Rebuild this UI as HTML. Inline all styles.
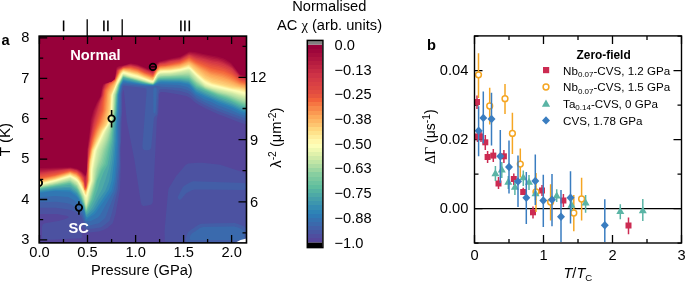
<!DOCTYPE html><html><head><meta charset="utf-8"><style>html,body{margin:0;padding:0;background:#fff;overflow:hidden}svg{display:block;will-change:transform;filter:blur(0.35px)}text{font-family:"Liberation Sans",sans-serif;fill:#000}</style></head><body><svg width="685" height="282" viewBox="0 0 685 282"><defs><clipPath id="ca"><rect x="39.2" y="36.1" width="207.3" height="206.8"/></clipPath><clipPath id="cb"><rect x="474.5" y="35.9" width="207" height="207.1"/></clipPath></defs><g clip-path="url(#ca)"><rect x="30" y="30" width="226" height="220" fill="#97013a"/>
<path fill-rule="evenodd" fill="#a20a3c" d="M189.2,51.5 195.2,52.1 204.8,54.3 217.2,56.4 223.2,58.3 225.8,59.4 231.2,62.9 239.8,74.3 241.2,75.0 250.2,76.8 255.8,76.8 255.8,249.8 30.2,249.8 30.2,168.3 70.8,167.2 76.8,168.5 78.8,169.5 81.8,171.4 85.8,175.3 86.3,174.2 86.8,169.2 87.3,149.2 89.7,131.2 90.6,120.2 93.0,111.2 96.7,102.8 100.5,96.2 101.9,87.8 103.1,84.2 105.8,83.1 111.2,81.9 114.8,79.2 116.3,67.8 118.8,66.1 123.2,65.4 130.8,63.2 137.8,64.6 150.8,70.0 153.2,70.4 156.7,63.2 159.2,61.6 170.8,58.6 180.2,56.8Z"/>
<path fill-rule="evenodd" fill="#af153f" d="M188.8,52.7 190.2,52.4 194.8,53.2 217.2,57.9 222.8,59.6 225.2,60.7 230.8,64.1 233.4,66.8 239.8,75.0 241.2,75.6 249.8,77.3 255.8,77.5 255.8,249.8 30.2,249.8 30.2,169.5 39.2,169.5 70.8,167.7 77.8,169.5 81.8,172.2 84.8,175.8 85.8,175.7 86.4,174.2 86.8,171.2 87.6,149.8 91.6,120.2 94.2,110.8 97.3,103.2 100.9,96.2 102.5,87.8 103.6,84.8 105.8,83.4 111.2,82.0 114.9,79.2 115.8,75.2 116.1,70.8 117.2,67.8 119.2,66.8 130.8,63.8 137.2,65.1 149.8,70.3 152.8,71.0 153.7,70.2 157.1,63.8 159.2,62.1 170.2,59.4 180.2,57.5Z"/>
<path fill-rule="evenodd" fill="#bc2142" d="M188.2,53.7 190.8,53.5 212.8,58.7 218.2,59.6 222.2,60.9 229.2,64.4 232.2,66.7 240.2,76.0 250.8,78.2 255.8,78.2 255.8,249.8 30.2,249.8 30.2,170.7 39.2,170.7 70.7,168.2 76.2,169.5 78.2,170.4 81.5,172.8 85.3,177.2 86.2,175.6 86.9,171.2 88.0,149.8 92.5,121.2 95.3,110.8 98.0,103.8 101.4,96.2 102.5,89.8 104.1,85.2 105.8,83.7 111.2,82.1 115.0,79.2 116.5,70.8 117.8,68.4 122.7,66.2 129.2,64.5 130.8,64.4 138.2,66.1 149.2,70.7 152.8,71.8 153.8,70.9 156.9,64.8 159.8,62.5 164.8,61.6 170.2,60.0 179.8,58.4Z"/>
<path fill-rule="evenodd" fill="#c82d44" d="M189.2,54.2 212.8,60.2 218.2,61.1 222.8,62.6 228.2,65.3 232.2,67.7 240.2,76.8 250.8,78.8 255.8,78.8 255.8,249.8 30.2,249.8 30.2,171.9 39.8,171.9 66.8,168.9 70.8,168.7 76.8,170.2 80.8,172.9 84.2,177.2 85.2,180.4 86.2,177.0 87.0,171.8 88.5,148.2 92.8,124.5 94.1,118.8 98.8,103.8 102.2,95.2 103.0,89.8 104.4,86.2 105.8,84.1 108.8,82.8 111.2,82.2 115.1,79.2 117.2,69.8 119.5,68.2 123.2,66.4 129.2,64.9 130.8,64.9 138.2,66.8 152.8,72.6 153.8,71.5 156.0,66.8 157.2,65.0 159.8,63.0 164.8,62.3 170.2,60.7 179.8,59.2Z"/>
<path fill-rule="evenodd" fill="#d33846" d="M188.2,55.2 189.2,54.9 190.2,55.1 196.2,57.4 204.8,59.2 212.2,61.5 217.8,62.2 223.8,64.2 231.8,68.2 240.2,77.4 250.2,79.4 255.8,79.4 255.8,249.8 30.2,249.8 30.2,172.9 39.8,172.9 68.8,169.1 70.8,169.1 76.8,170.6 81.0,173.8 83.8,177.8 84.7,183.8 84.8,188.8 85.9,183.2 86.9,174.8 88.6,149.8 90.3,139.8 94.1,121.8 100.4,100.8 102.6,95.2 103.5,89.8 105.8,84.5 109.0,82.8 111.2,82.3 114.3,80.2 115.4,78.8 117.4,70.2 123.2,66.7 130.8,65.4 137.8,67.1 150.2,72.3 153.2,73.0 156.7,66.2 158.2,64.5 160.2,63.2 164.8,62.9 170.8,61.1 180.1,59.8Z"/>
<path fill-rule="evenodd" fill="#da4243" d="M189.2,55.6 195.8,58.2 211.8,62.9 217.2,63.9 225.2,66.6 231.2,69.6 239.8,77.9 250.2,80.3 255.8,80.3 255.8,249.8 30.2,249.8 30.2,174.1 40.2,174.0 69.2,169.5 76.8,171.1 80.7,174.2 83.3,177.8 84.5,183.8 84.8,188.9 84.9,187.8 85.8,186.2 86.3,183.2 88.6,152.2 90.9,138.8 94.1,125.2 103.0,95.2 103.8,90.1 106.2,84.8 109.2,82.8 111.2,82.4 114.4,80.2 115.3,79.2 117.8,70.2 123.2,67.0 130.8,65.9 137.8,67.6 146.2,71.3 152.2,73.5 153.2,73.5 156.8,66.7 158.2,65.1 160.2,63.9 165.2,63.4 170.8,61.8 180.2,60.3Z"/>
<path fill-rule="evenodd" fill="#e24c41" d="M188.8,56.6 189.8,56.5 195.8,59.2 211.8,64.6 218.7,66.0 225.2,68.2 230.2,70.6 232.8,72.4 239.2,78.4 240.8,79.1 249.7,81.1 255.8,81.3 255.8,249.8 30.2,249.8 30.2,175.3 40.2,175.1 55.2,172.8 69.2,170.0 71.2,170.2 77.2,172.0 80.0,174.2 82.1,176.8 83.0,178.2 84.3,183.8 84.8,189.1 85.0,187.8 86.1,186.3 86.7,182.8 88.2,159.2 89.0,152.2 90.8,141.8 94.2,127.7 99.9,110.2 101.7,101.2 103.5,95.2 104.2,90.2 107.1,84.8 109.2,83.2 111.2,82.5 115.2,79.5 118.3,70.2 123.2,67.3 130.2,66.4 138.2,68.4 145.8,71.8 152.8,74.2 153.8,73.3 157.3,66.8 159.8,64.8 180.2,60.9Z"/>
<path fill-rule="evenodd" fill="#e9563e" d="M189.2,57.2 196.8,60.7 211.8,66.3 218.2,67.6 224.8,69.5 232.2,73.4 238.8,78.9 240.8,80.0 250.8,82.3 255.8,82.3 255.8,249.8 30.2,249.8 30.2,176.5 39.2,176.5 55.8,173.6 69.2,170.6 71.2,170.7 77.2,172.5 81.5,176.8 82.4,178.2 84.0,182.8 84.8,189.3 85.2,187.6 85.8,187.9 86.2,187.4 87.0,183.2 88.4,159.8 89.8,149.8 91.5,140.8 94.2,130.2 101.1,109.7 102.5,101.2 104.0,95.2 104.7,90.2 106.8,86.2 108.5,84.2 115.2,79.7 118.8,70.2 123.2,67.7 130.8,67.0 138.2,68.9 145.3,72.2 152.8,74.9 153.8,74.0 157.8,66.9 160.2,65.2 165.8,64.6 179.8,61.8Z"/>
<path fill-rule="evenodd" fill="#f0603c" d="M188.8,58.0 189.8,58.1 196.8,61.9 211.2,67.9 224.2,70.9 232.2,74.7 240.2,80.8 250.6,83.2 255.8,83.3 255.8,249.8 30.2,249.8 30.2,177.7 39.8,177.6 55.8,174.6 69.2,171.1 70.8,171.0 77.2,173.1 81.2,177.1 83.9,182.8 84.8,189.5 85.2,187.7 86.2,188.9 87.3,183.2 88.6,159.8 90.0,149.8 91.9,140.8 94.5,131.2 102.1,110.2 105.1,90.2 108.9,84.2 115.2,79.9 119.1,70.2 123.2,68.0 130.8,67.5 138.2,69.5 144.8,72.8 150.2,74.4 152.8,75.7 153.8,74.6 157.9,67.2 159.8,66.1 166.2,65.2 180.2,62.3Z"/>
<path fill-rule="evenodd" fill="#f46c3e" d="M188.8,58.6 189.8,58.7 196.2,62.5 210.8,69.1 223.8,72.0 231.3,75.2 240.2,81.5 250.2,84.0 255.8,84.0 255.8,249.8 30.2,249.8 30.2,178.4 39.8,178.4 55.2,175.2 68.8,171.5 70.8,171.3 76.8,173.1 81.0,177.2 83.8,182.8 84.8,189.7 85.2,188.0 86.2,189.2 87.8,180.8 88.6,162.8 90.3,149.8 92.1,141.2 95.2,130.8 99.5,120.3 103.0,110.2 103.7,101.8 105.6,90.2 109.4,84.2 115.3,80.2 119.2,70.5 123.8,68.1 130.8,67.9 137.8,69.7 145.2,73.4 153.2,76.0 156.2,70.2 158.2,67.3 159.2,66.7 160.8,66.1 164.8,65.9 180.2,62.8Z"/>
<path fill-rule="evenodd" fill="#f67a44" d="M188.2,59.6 189.2,59.3 196.2,63.4 211.4,70.8 223.2,73.4 230.8,76.5 239.8,82.2 250.2,84.7 255.8,84.8 255.8,249.8 30.2,249.8 30.2,178.8 40.2,178.7 55.2,175.7 68.8,171.8 70.8,171.7 76.8,173.6 80.5,177.2 83.8,183.4 84.6,189.8 84.9,189.8 85.2,188.6 86.2,189.7 88.0,180.8 88.7,162.8 90.8,148.8 92.8,140.2 95.6,131.8 100.3,120.8 103.6,110.8 104.5,101.8 106.2,90.8 109.8,84.8 115.4,80.2 119.8,70.4 123.8,68.3 130.2,68.3 137.8,70.2 144.8,73.6 153.2,76.4 156.8,69.8 159.0,67.2 160.8,66.5 165.2,66.2 180.2,63.4Z"/>
<path fill-rule="evenodd" fill="#f8894b" d="M188.7,60.2 190.8,60.9 195.8,64.0 209.8,71.4 211.8,72.2 222.8,74.8 230.2,77.7 239.2,82.8 249.8,85.4 255.8,85.6 255.8,249.8 30.2,249.8 30.2,179.3 40.2,179.2 55.2,176.1 70.2,171.9 76.2,173.9 80.0,177.2 83.4,183.2 84.5,189.8 84.8,190.0 85.2,189.3 86.2,189.9 88.1,180.8 89.2,159.8 90.8,150.2 94.5,136.8 96.8,130.2 101.0,121.2 104.4,110.8 105.2,102.3 107.0,90.8 110.3,85.2 115.6,80.2 119.9,70.8 123.8,68.6 130.2,68.9 137.6,70.8 144.8,74.1 151.2,76.4 153.2,76.7 156.4,70.8 159.2,67.6 160.8,67.0 167.8,66.3 180.2,64.0Z"/>
<path fill-rule="evenodd" fill="#fa9751" d="M188.2,61.2 189.2,61.0 190.2,61.4 199.8,67.3 210.8,73.2 222.8,76.3 229.8,78.9 239.2,83.7 249.8,86.2 255.8,86.4 255.8,249.8 30.2,249.8 30.2,179.8 40.2,179.7 55.2,176.5 70.2,172.3 76.2,174.4 79.8,177.5 83.0,183.2 84.4,189.8 84.8,190.1 86.2,190.1 87.0,187.8 88.3,180.8 89.4,159.8 91.1,150.2 94.4,138.8 97.4,130.8 102.0,121.2 105.0,111.8 107.4,92.2 110.8,85.8 115.8,80.4 120.2,70.9 123.8,69.0 130.2,69.4 137.2,71.2 144.8,74.6 151.2,77.0 152.8,77.1 153.8,76.4 157.2,70.0 159.8,67.8 169.2,66.6 179.2,64.8Z"/>
<path fill-rule="evenodd" fill="#fda658" d="M188.8,61.7 191.3,62.7 199.2,68.1 210.8,74.6 222.2,77.6 229.2,80.1 239.2,84.5 249.8,87.0 255.8,87.2 255.8,249.8 30.2,249.8 30.3,180.3 40.2,180.2 54.2,177.2 70.2,172.6 76.0,174.8 78.6,176.8 80.1,178.8 82.7,183.2 84.3,189.8 85.8,190.6 86.2,190.3 86.9,188.8 88.5,180.8 88.9,168.8 89.7,159.8 91.6,149.2 93.9,141.8 97.7,131.8 102.3,122.8 104.0,118.2 106.0,110.8 107.6,94.8 108.5,91.2 111.3,86.2 115.8,80.9 120.4,71.2 122.2,69.8 123.8,69.3 129.8,69.8 137.2,71.7 144.2,74.9 152.2,77.7 153.8,76.9 157.0,70.8 159.8,68.2 169.2,67.1 179.2,65.4Z"/>
<path fill-rule="evenodd" fill="#fdb160" d="M188.3,62.6 189.2,62.5 190.8,63.2 205.2,73.1 210.8,76.0 228.3,81.1 238.8,85.2 250.2,87.9 255.8,88.0 255.8,249.8 30.2,249.8 30.2,180.8 39.2,180.8 41.8,180.4 55.2,177.4 70.2,173.0 75.8,175.1 78.2,176.9 82.4,183.2 84.2,189.9 85.8,191.0 86.2,190.6 87.1,188.8 88.9,179.8 89.5,163.8 90.2,158.2 91.9,149.2 98.2,132.0 99.7,128.8 103.1,123.2 104.9,118.2 107.0,109.8 108.3,94.8 109.0,92.2 112.1,86.2 115.8,81.2 119.2,73.8 120.8,71.4 122.8,69.9 123.8,69.6 129.8,70.4 137.2,72.3 144.2,75.4 152.2,78.3 154.1,76.8 157.3,70.8 159.8,68.6 169.2,67.7 179.2,65.9Z"/>
<path fill-rule="evenodd" fill="#fdbd69" d="M188.8,63.2 190.5,63.8 206.2,75.2 210.8,77.4 227.8,82.3 237.2,85.7 249.8,88.6 255.8,88.8 255.8,249.8 30.2,249.8 30.3,181.3 39.2,181.3 41.8,180.9 54.8,177.9 70.2,173.3 75.8,175.6 78.1,177.2 82.0,183.2 84.2,190.2 85.8,191.4 86.2,190.9 87.2,188.8 89.1,179.8 89.7,163.8 92.0,149.8 95.9,139.2 99.2,131.4 103.8,123.8 105.6,119.3 107.8,109.8 108.7,97.2 109.6,92.8 112.6,86.8 116.1,81.2 119.3,74.2 120.9,71.8 122.6,70.2 123.8,69.9 129.8,70.9 138.2,73.1 144.2,75.8 152.2,78.8 154.0,77.2 157.7,70.8 160.2,68.9 169.2,68.2 179.2,66.5Z"/>
<path fill-rule="evenodd" fill="#fdc872" d="M187.8,64.2 189.8,64.1 205.2,76.0 212.8,79.6 220.8,81.6 236.8,86.5 250.8,89.6 255.8,89.6 255.8,249.8 30.2,249.8 30.2,181.8 39.2,181.8 41.8,181.3 54.8,178.4 70.2,173.6 75.2,175.8 77.6,177.2 81.2,182.4 84.2,190.2 85.8,192.1 87.3,188.8 89.3,180.2 89.5,169.2 89.9,163.8 92.3,149.8 99.8,131.9 100.8,129.8 104.5,124.2 106.4,119.8 108.6,109.8 109.8,94.2 119.6,74.2 120.8,72.5 123.2,70.3 127.8,71.0 138.2,73.6 144.2,76.3 152.8,79.3 154.2,77.3 157.8,71.0 160.2,69.3 169.2,68.7 179.8,67.0Z"/>
<path fill-rule="evenodd" fill="#fed47c" d="M188.2,64.7 189.8,64.9 196.8,70.9 205.8,77.9 212.8,81.2 232.8,86.6 240.2,87.8 250.8,90.4 255.8,90.4 255.8,249.8 30.2,249.8 30.2,182.3 39.8,182.3 54.8,178.8 70.2,173.9 75.2,176.3 77.5,177.8 81.1,182.8 84.0,190.2 85.8,192.9 87.2,189.8 89.5,180.2 89.6,169.2 90.1,164.2 90.6,159.8 92.6,149.8 96.8,139.8 101.3,130.2 105.3,124.8 107.2,119.9 109.4,110.2 110.3,94.8 117.4,79.2 119.8,74.2 121.0,72.8 122.8,70.8 123.8,70.5 137.8,74.0 150.2,79.2 152.8,79.8 153.8,78.7 157.9,71.2 160.2,69.7 169.8,69.2 179.8,67.7Z"/>
<path fill-rule="evenodd" fill="#fede85" d="M188.8,65.1 191.2,66.9 196.4,71.8 204.2,78.2 211.8,82.3 231.2,87.3 239.8,88.4 250.2,91.1 255.8,91.1 255.8,249.8 30.2,249.8 30.2,182.6 39.8,182.6 42.2,182.1 55.8,178.9 70.2,174.2 76.8,177.5 78.0,178.8 80.8,182.8 85.8,193.8 87.5,189.2 89.7,180.2 89.8,169.2 90.3,164.2 90.8,159.8 92.9,149.8 101.9,130.2 105.9,125.2 107.8,120.8 110.0,110.2 110.9,94.8 120.1,74.2 122.6,71.2 123.8,70.7 137.8,74.4 150.2,79.6 152.8,80.1 153.2,80.0 158.1,71.2 160.2,70.1 169.7,69.6 179.8,68.1Z"/>
<path fill-rule="evenodd" fill="#fee690" d="M188.8,65.6 191.1,67.2 196.2,72.2 204.8,79.3 212.2,83.1 232.2,88.1 239.8,89.0 250.2,91.7 255.8,91.7 255.8,249.8 30.2,249.8 30.2,182.9 39.8,182.9 42.2,182.4 55.2,179.3 70.2,174.5 76.8,177.7 78.4,179.8 80.8,183.1 85.2,193.8 85.8,194.2 87.5,189.8 90.0,180.2 90.2,166.8 90.8,161.8 92.8,151.2 96.3,142.8 102.2,130.6 106.3,125.2 108.4,120.2 110.4,110.2 111.1,95.2 114.3,88.2 117.8,79.4 121.2,73.1 123.0,71.2 123.8,71.1 137.8,74.8 150.2,79.9 153.2,80.3 157.8,72.1 158.5,71.2 160.6,70.2 169.8,70.0 176.8,69.0 180.2,68.4Z"/>
<path fill-rule="evenodd" fill="#feed9c" d="M188.2,66.2 189.2,66.4 190.8,67.4 196.2,72.7 204.8,80.0 211.8,83.5 231.8,88.5 239.2,89.6 249.8,92.3 255.8,92.5 255.8,249.8 30.2,249.8 30.2,183.2 40.2,183.2 55.2,179.7 70.2,174.9 76.2,178.0 78.2,180.1 81.2,184.8 85.2,194.2 85.8,194.6 86.2,194.2 90.2,180.2 90.3,169.2 91.5,160.2 93.5,150.2 102.6,130.8 106.6,125.2 108.5,120.8 110.6,110.2 111.3,95.2 117.8,79.9 121.4,73.2 123.2,71.5 123.8,71.4 137.8,75.3 150.2,80.2 153.2,80.5 156.8,73.8 158.8,71.5 160.2,70.8 163.2,70.3 170.2,70.3 180.2,68.8Z"/>
<path fill-rule="evenodd" fill="#fff4a8" d="M188.2,66.7 188.8,66.7 190.8,68.0 197.2,74.2 204.2,80.3 211.8,84.1 231.8,89.0 239.2,90.3 249.8,93.1 255.8,93.2 255.8,249.8 30.2,249.8 30.2,183.6 40.2,183.5 55.2,180.0 70.2,175.3 75.9,178.2 77.9,180.2 80.9,184.8 84.9,194.2 85.8,195.0 86.2,194.9 90.6,180.2 90.8,169.2 92.0,160.2 94.0,150.2 102.8,131.2 107.0,125.2 108.9,120.8 110.9,110.2 111.6,95.2 117.9,80.2 121.8,73.2 123.2,72.0 124.2,72.0 137.2,75.6 149.8,80.3 152.8,80.8 153.6,80.2 157.1,73.8 158.8,71.9 159.8,71.4 163.8,70.7 170.2,70.6 180.2,69.1Z"/>
<path fill-rule="evenodd" fill="#fffcb4" d="M188.2,67.2 190.5,68.2 197.2,74.8 204.0,80.8 206.8,82.5 211.2,84.5 231.8,89.5 239.2,90.9 249.8,93.8 255.8,94.0 255.8,249.8 30.2,249.8 30.2,183.9 40.2,183.8 55.2,180.3 70.2,175.7 75.8,178.6 78.2,181.1 81.5,186.8 84.8,194.4 85.8,195.4 86.5,195.2 90.9,180.8 91.1,169.8 92.5,160.2 94.5,150.2 103.3,131.2 107.3,125.2 109.2,120.8 111.2,110.2 111.9,95.2 118.2,80.2 122.1,73.2 123.8,72.2 124.2,72.4 137.2,76.0 149.8,80.6 152.2,81.2 153.5,80.8 157.2,74.0 159.8,71.8 163.8,71.1 170.2,71.0 180.2,69.5Z"/>
<path fill-rule="evenodd" fill="#fcfdb8" d="M188.2,67.7 190.2,68.5 196.8,75.0 203.8,81.2 206.8,83.2 211.2,85.1 239.2,91.6 249.2,94.4 255.8,94.8 255.8,249.8 30.2,249.8 30.2,184.3 40.2,184.1 54.8,180.8 70.2,176.1 75.8,179.1 78.0,181.2 81.2,186.8 84.6,194.8 86.2,196.2 86.8,195.7 91.2,180.8 91.5,169.8 93.0,160.2 95.0,150.2 103.5,131.8 107.6,125.2 109.5,120.8 111.5,110.2 112.3,94.8 118.5,80.2 122.2,73.5 123.8,72.7 124.2,72.8 137.2,76.4 149.8,80.9 152.2,81.5 153.7,80.8 157.2,74.3 159.8,72.1 163.8,71.5 169.2,71.5 177.2,70.4Z"/>
<path fill-rule="evenodd" fill="#f5fab4" d="M188.2,68.2 189.9,68.8 196.4,75.2 203.6,81.8 206.2,83.6 211.2,85.7 238.8,92.2 249.2,95.2 255.7,95.5 255.8,249.8 30.2,249.8 30.2,184.6 40.8,184.3 54.8,181.1 70.2,176.5 75.2,179.3 77.8,181.4 81.1,187.2 84.3,194.8 86.2,197.1 86.8,196.5 91.6,180.8 91.9,169.8 95.4,150.8 104.0,131.8 107.8,125.6 109.7,121.2 111.8,110.2 112.5,94.8 117.8,82.2 122.4,73.8 123.8,73.1 124.8,73.3 138.2,77.2 149.2,81.1 152.2,81.8 153.8,81.0 157.6,74.2 160.2,72.3 171.2,71.6 180.8,70.1Z"/>
<path fill-rule="evenodd" fill="#edf7b1" d="M187.8,68.7 189.8,69.1 196.2,75.7 203.2,82.2 205.8,84.1 207.8,84.9 212.8,86.8 234.8,91.8 249.2,95.9 251.2,96.3 255.8,96.3 255.8,249.8 30.2,249.8 30.2,184.9 39.8,184.9 54.8,181.4 70.2,176.9 75.2,179.7 77.6,181.8 80.8,187.2 84.2,195.1 86.2,198.3 87.8,195.2 91.9,180.8 92.3,169.8 95.8,150.8 104.4,131.8 108.0,125.8 110.0,121.2 112.1,110.2 112.8,94.8 118.1,82.2 122.8,73.8 123.8,73.5 124.8,73.7 130.8,75.7 138.2,77.6 149.2,81.4 152.8,82.1 154.1,80.8 157.8,74.4 160.2,72.7 171.2,72.0 180.8,70.5Z"/>
<path fill-rule="evenodd" fill="#e5f3ad" d="M187.8,69.2 189.2,69.2 189.8,69.6 198.2,78.3 205.8,84.8 212.8,87.3 232.2,91.8 250.8,97.0 255.8,97.0 255.8,249.8 30.2,249.8 30.2,185.3 39.8,185.3 54.8,181.8 70.3,177.2 74.2,179.6 77.6,182.2 81.2,188.8 86.2,199.9 87.9,196.2 89.4,189.8 92.2,180.8 92.7,169.8 96.3,150.8 105.3,130.8 108.4,125.8 110.7,120.2 112.3,110.2 113.0,94.8 116.9,85.2 122.8,74.2 124.2,73.9 130.2,76.0 144.2,79.8 149.2,81.7 152.8,82.3 153.8,81.6 157.8,74.8 160.2,73.0 169.7,72.7 179.8,71.2Z"/>
<path fill-rule="evenodd" fill="#dcefaa" d="M187.8,69.7 189.4,69.8 197.2,78.0 205.2,85.3 213.2,88.1 230.8,91.9 250.2,97.7 255.8,97.8 255.8,249.8 30.2,249.8 30.2,185.5 40.8,185.3 55.8,181.8 70.2,177.6 77.3,182.2 81.9,190.8 84.0,195.8 86.2,202.4 87.5,199.2 89.7,189.8 92.5,181.2 93.0,169.8 97.1,149.8 102.3,139.2 105.5,131.2 109.2,124.6 111.0,120.2 112.5,110.8 113.2,94.8 117.1,85.2 123.0,74.2 123.8,74.1 131.3,76.7 138.8,78.5 150.2,82.2 152.8,82.6 153.8,81.9 156.2,77.2 158.0,74.8 160.2,73.4 171.8,72.8 179.8,71.5Z"/>
<path fill-rule="evenodd" fill="#d2eba8" d="M187.2,70.2 189.2,70.1 197.8,79.1 205.2,85.8 212.2,88.3 231.8,92.7 250.2,98.4 255.8,98.5 255.8,249.8 30.2,249.8 30.2,185.8 39.8,185.8 56.8,181.9 70.2,177.9 76.9,182.2 78.2,184.4 81.2,189.9 83.8,195.8 86.2,204.9 87.7,200.2 90.1,189.2 92.8,181.2 93.5,169.8 97.2,151.0 102.8,139.2 106.2,130.8 109.0,125.8 111.3,120.2 112.8,110.8 113.4,95.2 117.2,85.3 123.2,74.4 130.2,76.8 138.8,78.8 150.2,82.5 152.8,82.8 153.8,82.1 156.2,77.4 158.2,74.8 160.2,73.7 169.8,73.4 179.8,71.9Z"/>
<path fill-rule="evenodd" fill="#c7e7a6" d="M187.2,71.2 188.8,71.0 189.8,71.7 197.6,79.8 204.8,85.9 205.8,86.4 212.2,88.8 231.2,93.3 249.8,99.3 255.8,99.4 255.8,249.8 30.2,249.8 30.2,186.1 39.8,186.1 55.2,182.6 70.2,178.6 76.2,182.5 78.1,184.8 81.1,190.2 83.7,196.2 85.6,204.2 86.0,205.2 86.4,205.2 88.0,200.2 90.3,190.2 93.2,181.2 94.0,170.2 98.7,150.2 103.6,139.8 106.8,131.2 111.6,120.2 113.1,110.8 113.8,95.1 117.2,85.8 123.2,74.7 130.2,77.0 144.8,80.7 150.2,82.7 152.8,83.0 153.8,82.2 157.2,76.3 158.3,75.2 160.2,74.2 163.2,73.8 170.2,73.7Z"/>
<path fill-rule="evenodd" fill="#bbe2a5" d="M186.8,72.2 188.2,72.0 189.8,72.8 197.1,80.2 204.8,86.5 206.8,87.3 217.8,90.9 231.2,94.2 249.8,100.3 255.8,100.5 255.8,249.8 30.2,249.8 30.2,186.4 39.8,186.4 54.4,183.2 69.2,179.3 70.2,179.3 75.8,182.8 77.9,185.2 83.3,196.2 85.6,205.2 86.2,205.9 86.4,205.8 88.2,200.8 90.8,190.2 93.5,181.8 94.8,170.2 99.8,150.8 104.7,139.8 111.9,120.2 113.4,110.2 114.3,94.8 117.5,85.8 122.8,75.7 123.8,75.1 129.8,77.1 138.8,79.4 150.2,82.9 152.8,83.2 153.2,83.1 154.0,82.2 157.8,76.3 160.2,74.8 172.2,74.1Z"/>
<path fill-rule="evenodd" fill="#aedda3" d="M185.8,73.2 188.2,73.1 189.8,73.7 196.8,80.9 204.5,86.8 206.8,87.8 217.8,91.6 230.8,94.9 249.2,101.2 250.8,101.6 255.8,101.6 255.8,249.8 30.2,249.8 30.2,186.8 39.8,186.8 54.8,183.6 69.2,179.9 70.2,179.9 75.3,183.2 77.7,185.8 82.8,196.2 84.2,200.2 85.3,205.2 86.2,206.7 86.8,206.1 89.0,199.2 93.9,181.8 95.5,170.8 101.1,150.8 105.8,139.8 112.2,120.2 113.8,110.2 114.8,94.8 117.9,85.2 122.9,75.8 123.8,75.4 130.2,77.6 150.2,83.0 152.8,83.4 153.3,83.2 154.2,82.2 157.8,76.8 160.2,75.3 169.8,74.9Z"/>
<path fill-rule="evenodd" fill="#a2d8a1" d="M184.8,74.2 189.2,74.2 196.2,81.4 205.2,87.8 217.7,92.2 231.2,95.9 240.2,99.4 249.8,102.5 255.8,102.7 255.8,249.8 30.2,249.8 30.2,187.1 41.2,186.8 70.2,180.6 77.3,185.8 82.5,196.2 84.0,200.2 85.7,207.2 86.2,208.0 89.1,200.2 94.3,182.2 96.2,170.8 97.4,166.2 100.0,159.2 102.7,149.8 107.0,139.2 112.6,120.2 114.0,110.8 114.6,99.2 115.4,93.8 118.1,85.2 123.2,75.8 147.8,82.6 152.8,83.5 153.8,83.0 156.1,79.2 158.2,76.8 160.2,75.9 169.8,75.5Z"/>
<path fill-rule="evenodd" fill="#93d2a0" d="M185.2,74.7 189.2,75.0 196.2,82.1 204.2,87.6 206.2,88.5 218.2,92.9 225.8,94.7 231.8,96.7 240.8,100.5 250.2,103.6 255.7,103.6 255.8,249.8 30.2,249.8 30.2,187.4 39.8,187.4 57.2,183.9 68.2,181.2 70.2,181.1 76.8,185.6 77.2,186.4 82.4,196.8 86.2,209.1 89.5,200.2 93.4,186.8 94.9,181.2 97.3,169.2 100.9,159.8 103.5,150.8 107.6,140.2 110.4,130.2 111.1,126.2 112.9,120.2 114.3,110.8 114.9,99.2 115.6,94.2 118.1,85.8 123.2,76.0 147.8,82.8 152.8,83.7 153.8,83.2 157.8,77.6 160.8,76.2 169.8,75.9Z"/>
<path fill-rule="evenodd" fill="#83cca0" d="M181.2,75.7 188.8,75.9 197.2,83.8 204.8,88.4 211.2,91.0 217.8,93.4 227.8,96.2 241.2,101.7 249.8,104.5 255.7,104.7 255.8,249.8 30.2,249.8 30.2,187.7 39.8,187.6 68.8,181.8 70.2,181.8 76.5,186.2 78.7,189.8 83.6,200.8 85.5,208.2 86.0,209.2 86.2,209.5 86.5,209.2 90.2,199.8 92.5,192.2 97.9,171.2 101.6,162.2 105.0,150.2 108.6,139.8 113.1,120.2 114.6,110.8 115.2,99.2 115.8,94.2 118.2,85.8 123.2,76.3 148.8,83.3 152.8,83.9 153.9,83.2 157.8,78.0 159.8,77.0 163.2,76.4Z"/>
<path fill-rule="evenodd" fill="#74c69f" d="M123.2,76.7 148.8,83.5 152.8,84.1 153.8,83.6 158.1,78.2 160.2,77.4 181.2,76.5 188.2,76.8 190.0,77.8 196.8,84.4 205.8,89.3 217.2,93.8 227.8,97.0 240.8,102.5 248.8,105.2 251.2,105.8 255.8,105.8 255.8,249.8 30.2,249.8 30.2,188.0 39.8,188.0 68.8,182.4 70.2,182.5 76.1,186.8 77.8,188.8 80.6,194.2 83.2,200.8 85.8,209.5 86.2,210.0 86.8,209.5 91.0,199.2 98.8,171.8 100.7,167.2 102.9,163.2 106.0,151.2 109.5,140.2 113.5,120.2 114.9,110.8 115.5,99.2 116.2,94.2 118.9,84.8Z"/>
<path fill-rule="evenodd" fill="#65c09e" d="M123.2,77.0 148.8,83.7 152.8,84.2 153.9,83.8 158.2,78.6 160.2,77.9 181.8,77.3 188.8,78.0 189.8,78.5 196.6,85.2 205.8,89.8 217.2,94.5 228.8,98.2 240.2,103.3 248.2,106.1 250.8,106.8 255.8,106.8 255.8,249.8 30.2,249.8 30.2,188.4 39.8,188.4 68.8,183.0 70.2,183.1 75.8,187.2 77.6,189.2 81.3,196.8 85.6,209.8 86.2,210.6 87.0,209.8 91.7,199.2 94.4,190.2 96.6,180.7 100.0,171.8 101.0,169.2 104.4,163.8 110.9,137.8 112.5,126.2 115.3,110.8 116.4,94.8 119.1,84.8Z"/>
<path fill-rule="evenodd" fill="#59b8a0" d="M123.8,77.2 147.2,83.6 152.2,84.4 153.2,84.4 154.1,83.8 158.2,79.1 160.8,78.4 181.8,78.0 188.8,78.8 196.2,86.0 205.8,90.4 218.2,95.5 227.2,98.4 239.9,104.2 243.8,105.7 250.2,107.8 255.8,107.9 255.8,249.8 30.2,249.8 30.2,188.7 39.8,188.7 69.2,183.6 70.2,183.7 77.2,189.4 80.9,196.8 83.8,204.2 85.3,209.8 86.2,211.6 87.4,209.8 92.4,199.2 95.4,189.2 97.2,180.7 101.8,170.2 105.9,164.2 108.9,149.8 111.8,138.2 113.2,124.8 115.6,110.8 116.7,94.8 119.4,84.8 122.8,78.1 123.2,77.3Z"/>
<path fill-rule="evenodd" fill="#4eaaa6" d="M123.2,77.9 123.8,77.8 147.2,83.8 152.2,84.5 153.2,84.5 154.3,83.8 158.2,79.7 160.8,78.9 180.2,78.8 188.2,79.7 189.8,80.6 196.2,87.0 205.2,91.1 217.8,96.4 231.3,101.2 239.8,105.4 242.8,106.5 250.2,109.0 255.8,109.1 255.8,249.8 30.2,249.8 30.2,189.3 40.2,189.2 55.8,186.6 69.8,184.8 76.2,189.5 78.2,192.4 81.2,198.2 83.8,205.1 85.6,211.8 86.2,212.5 87.8,210.9 90.2,206.8 93.6,200.2 97.9,188.8 99.9,181.8 103.6,172.2 107.6,164.8 112.3,140.2 113.4,126.8 116.0,110.8 116.2,102.8 117.2,93.8 119.2,85.8Z"/>
<path fill-rule="evenodd" fill="#439dab" d="M123.8,78.7 143.2,83.2 152.3,84.7 153.8,84.4 158.2,80.6 160.8,79.9 179.8,79.8 187.8,80.9 189.2,81.5 196.2,88.5 205.2,92.7 218.2,98.2 231.2,102.9 240.8,107.4 250.8,110.6 255.8,110.6 255.8,249.8 30.2,249.8 30.2,190.3 39.8,190.3 55.2,187.8 65.2,186.9 70.2,186.9 75.2,190.5 77.8,193.2 81.6,200.8 84.1,207.2 85.3,212.2 86.2,213.8 86.8,214.2 87.8,213.3 92.1,207.8 102.3,188.8 105.3,180.2 109.1,167.8 110.7,159.8 113.4,140.8 114.4,126.8 116.4,110.8 117.4,94.8 120.0,84.8 122.8,79.4Z"/>
<path fill-rule="evenodd" fill="#3890b0" d="M123.2,79.5 142.8,83.7 150.8,84.8 153.2,84.9 158.2,81.3 160.8,80.6 179.8,80.7 188.8,82.2 195.8,89.6 204.8,94.0 217.8,99.5 232.2,104.7 240.8,108.9 250.2,112.0 255.8,112.0 255.8,249.8 30.2,249.8 30.2,191.1 39.8,191.1 55.8,188.7 65.8,188.2 70.2,188.4 76.8,193.2 78.2,195.6 81.2,201.0 83.4,206.2 86.2,216.1 93.5,209.2 98.9,199.8 105.3,190.8 109.1,181.2 112.5,160.2 114.5,140.8 114.7,132.8 116.9,110.8 117.8,94.8 120.0,85.8Z"/>
<path fill-rule="evenodd" fill="#2d83b6" d="M123.2,80.6 124.2,80.4 141.8,84.0 150.2,85.1 153.2,85.1 158.2,82.2 161.2,81.6 179.2,81.8 188.2,83.4 189.6,84.2 194.8,90.0 196.8,91.7 205.8,96.0 218.2,101.3 231.8,106.2 240.8,110.5 250.2,113.4 255.8,113.5 255.8,249.8 30.2,249.8 30.2,192.1 39.8,192.1 56.2,189.9 66.2,189.9 70.2,190.3 75.8,194.2 78.2,197.3 81.2,202.4 83.5,207.8 85.8,216.5 87.2,217.4 93.2,212.5 95.2,210.2 108.5,190.2 109.4,188.2 111.6,180.8 114.2,160.2 115.7,141.3 116.3,124.8 117.5,111.2 118.3,94.8 120.4,85.8Z"/>
<path fill-rule="evenodd" fill="#3177b3" d="M123.2,81.2 143.2,84.7 150.2,85.4 153.2,85.4 158.2,83.0 160.8,82.6 179.8,82.9 187.8,84.6 189.2,85.3 195.9,92.8 204.8,97.3 212.2,100.0 218.2,103.0 232.2,108.0 240.2,112.0 250.2,115.0 255.8,115.0 255.8,249.8 30.2,249.8 30.2,193.1 39.8,193.1 53.8,191.1 69.8,191.8 76.8,196.8 80.8,202.8 83.8,209.8 86.2,219.6 95.1,213.8 111.6,190.2 114.2,179.2 116.2,157.2 117.0,141.8 117.1,124.3 118.4,107.2 118.7,94.8 120.7,86.2Z"/>
<path fill-rule="evenodd" fill="#3a6aad" d="M123.8,82.6 145.8,85.6 153.2,85.7 158.8,84.2 178.8,85.1 187.2,87.0 190.2,89.0 195.2,94.3 204.2,99.4 211.2,102.1 217.2,105.1 231.2,110.2 240.2,114.2 249.8,117.0 255.8,117.2 255.8,249.8 30.2,249.8 30.2,197.2 40.2,197.2 54.8,195.9 68.2,196.9 74.2,200.2 79.1,205.2 82.3,210.8 85.4,220.2 85.8,220.9 86.8,221.3 90.8,220.9 97.8,217.4 100.3,214.8 104.2,207.8 113.4,191.2 115.5,181.8 117.4,161.2 118.2,141.2 118.2,124.8 119.2,111.8 119.5,95.2 121.3,85.8 122.2,84.1Z"/>
<path fill-rule="evenodd" fill="#435ea7" d="M124.2,84.2 146.2,86.4 153.2,86.8 155.2,86.2 157.2,86.1 161.2,86.8 172.8,87.4 180.2,88.1 185.8,89.5 189.7,91.2 196.8,98.0 205.2,102.6 218.2,108.5 241.2,117.1 250.8,119.8 255.8,119.8 255.8,249.8 30.2,249.8 30.3,202.3 56.8,201.8 66.2,203.0 70.2,204.0 75.2,206.9 78.3,209.2 82.2,214.8 85.2,222.4 87.2,225.7 87.8,225.9 98.8,223.2 105.2,218.0 115.3,192.2 116.4,188.2 118.8,165.2 119.1,148.8 119.6,141.8 119.6,124.8 120.5,111.8 120.7,94.2 122.1,85.8 122.8,84.8ZM154.8,87.2 153.8,87.7 153.3,89.8 153.4,111.8 153.8,113.2 154.2,113.5 155.2,113.1 155.7,110.8 156.8,88.8 156.2,87.5ZM216.5,226.8 203.2,227.1 200.5,227.8 191.6,233.8 190.2,235.9 189.7,239.2 190.8,240.0 192.8,240.1 238.8,240.1 242.2,240.0 243.8,239.2 244.1,237.2 244.0,231.8 243.3,230.2 241.8,229.2 237.1,227.2 233.8,226.4Z"/>
<path fill-rule="evenodd" fill="#4c52a1" d="M123.8,85.7 144.2,88.0 145.8,88.4 146.5,89.2 146.6,91.8 142.4,146.2 142.8,148.8 144.2,149.9 146.8,150.2 149.2,149.9 150.7,148.8 151.2,147.4 153.9,118.2 154.6,116.8 156.3,115.2 157.2,113.8 158.1,94.2 159.1,90.2 160.2,89.2 166.8,89.3 179.2,90.8 188.2,93.2 197.0,100.8 205.1,105.2 217.8,111.1 239.8,119.2 249.8,122.3 255.8,122.5 255.8,249.8 30.2,249.8 30.2,207.7 55.8,207.7 68.8,209.4 72.2,210.6 75.8,212.0 80.8,215.6 83.2,220.9 85.4,227.8 86.2,228.8 91.7,228.8 100.8,227.4 105.8,224.0 109.5,220.8 112.0,212.8 118.1,188.8 120.0,165.8 120.0,148.2 120.5,141.8 120.5,124.2 121.5,111.8 121.4,94.2 122.2,88.7 123.0,86.2ZM193.0,181.2 189.4,182.8 184.4,185.8 182.7,187.2 178.1,196.2 177.8,197.8 178.8,199.4 179.8,199.8 180.8,199.5 186.2,193.3 191.2,190.6 194.2,189.5 204.2,189.4 243.2,190.1 245.2,189.6 246.0,187.8 245.8,184.0 245.0,183.2 243.8,183.0ZM216.5,223.2 202.2,223.7 200.2,224.1 197.8,225.2 190.2,230.2 188.1,232.2 187.1,234.2 186.0,237.8 185.6,239.8 185.8,241.2 186.7,242.2 187.8,242.7 191.2,243.0 242.2,243.0 244.8,242.8 246.3,241.8 247.0,239.2 246.9,230.8 246.1,228.2 244.2,226.5 238.2,223.9 234.8,223.0Z"/>
<path fill-rule="evenodd" fill="#55469b" d="M123.2,90.1 123.9,90.8 126.8,121.2 134.5,160.2 140.8,202.2 141.6,204.8 143.2,205.9 146.2,205.8 150.8,204.8 152.0,203.8 152.8,201.8 156.9,118.8 158.3,113.2 159.2,94.2 160.2,92.3 161.8,91.9 165.8,92.3 179.2,94.4 186.8,96.3 190.2,98.1 194.3,101.7 197.8,104.2 205.8,108.5 217.8,114.0 239.8,122.4 249.2,125.5 251.2,125.9 255.8,125.9 255.8,249.8 30.2,249.8 30.2,214.0 56.8,214.1 66.7,215.8 68.6,216.8 68.4,217.8 64.8,219.3 58.2,220.9 45.0,223.2 42.8,224.2 42.0,226.8 42.0,237.2 42.7,239.2 44.2,239.9 80.5,238.2 81.8,237.7 82.3,236.2 81.0,228.8 81.2,227.4 82.2,227.4 85.8,231.1 89.2,232.6 98.8,231.6 102.8,230.3 107.8,227.7 112.7,223.2 115.5,214.2 120.0,189.2 120.9,166.2 120.6,148.2 121.1,141.8 121.7,118.2 122.2,111.8 122.3,94.8ZM197.8,162.8 188.2,163.5 185.8,164.7 176.2,176.1 168.8,188.2 168.2,190.8 164.6,230.2 164.8,240.8 165.2,241.4 166.8,241.8 181.2,241.9 186.2,244.1 189.2,244.5 242.2,244.5 244.8,244.4 246.6,243.8 247.8,242.6 248.4,240.8 248.5,232.2 248.1,228.8 246.3,224.2 245.9,222.2 245.8,195.2 246.1,193.2 247.7,189.8 247.9,185.2 247.6,182.8 246.0,179.2 245.4,173.8 243.0,172.2 220.3,164.8 202.2,162.8Z"/><path d="M234,243.5 Q240,239.5 246.5,238.5 L246.5,243.5 Z" fill="#fff"/><circle cx="38.9" cy="182.9" r="3.25" fill="none" stroke="#000" stroke-width="1.8"/><path d="M78.9,201.2V204.3M78.9,210.8V214.7" stroke="#000" stroke-width="1.6"/><circle cx="78.9" cy="207.6" r="3.25" fill="none" stroke="#000" stroke-width="1.8"/><path d="M111.6,110.1V115.3M111.6,121.8V127.4" stroke="#000" stroke-width="1.6"/><circle cx="111.6" cy="118.6" r="3.25" fill="none" stroke="#000" stroke-width="1.8"/><path d="M152.9,63.5V63.7M152.9,70.2V70.5" stroke="#000" stroke-width="1.6"/><circle cx="152.9" cy="66.9" r="3.25" fill="none" stroke="#000" stroke-width="1.8"/><path d="M151,66.9H155" stroke="#000" stroke-width="1.2"/></g><text x="70.2" y="59.7" style="font-weight:bold;font-size:14.67px;fill:#fff">Normal</text><text x="68.5" y="233" style="font-weight:bold;font-size:14.67px;fill:#fff">SC</text><path d="M39.5,242.9v-8M39.5,36.1v8M63.5,242.9v-4M63.5,36.1v4M87.5,242.9v-8M87.5,36.1v8M111.6,242.9v-4M111.6,36.1v4M135.6,242.9v-8M135.6,36.1v8M159.6,242.9v-4M159.6,36.1v4M183.6,242.9v-8M183.6,36.1v8M207.6,242.9v-4M207.6,36.1v4M231.6,242.9v-8M231.6,36.1v8M39.2,239.9h8M39.2,219.7h4M39.2,199.5h8M39.2,179.3h4M39.2,159.1h8M39.2,138.9h4M39.2,118.7h8M39.2,98.5h4M39.2,78.3h8M39.2,58.1h4M39.2,37.9h8M246.5,232.9h-4M246.5,201.8h-8M246.5,170.7h-4M246.5,139.6h-8M246.5,108.5h-4M246.5,77.4h-8M246.5,46.3h-4" stroke="#000" stroke-width="1.3" fill="none"/><rect x="39.2" y="36.1" width="207.3" height="206.8" fill="none" stroke="#000" stroke-width="1.6"/><path d="M87.2,19.3V36M122.2,19.3V36" stroke="#000" stroke-width="1.3"/><path d="M63.6,20.4V31.2M103.9,20.4V31.2M107.9,20.4V31.2M180.9,20.4V31.2M184.9,20.4V31.2M189.3,20.4V31.2" stroke="#000" stroke-width="1.55"/><text x="29.3" y="244.1" text-anchor="end" style="font-size:14.67px">3</text><text x="29.3" y="203.7" text-anchor="end" style="font-size:14.67px">4</text><text x="29.3" y="163.3" text-anchor="end" style="font-size:14.67px">5</text><text x="29.3" y="122.9" text-anchor="end" style="font-size:14.67px">6</text><text x="29.3" y="82.5" text-anchor="end" style="font-size:14.67px">7</text><text x="29.3" y="42.1" text-anchor="end" style="font-size:14.67px">8</text><text x="39.5" y="257.4" text-anchor="middle" style="font-size:14.67px">0.0</text><text x="87.5" y="257.4" text-anchor="middle" style="font-size:14.67px">0.5</text><text x="135.6" y="257.4" text-anchor="middle" style="font-size:14.67px">1.0</text><text x="183.6" y="257.4" text-anchor="middle" style="font-size:14.67px">1.5</text><text x="231.6" y="257.4" text-anchor="middle" style="font-size:14.67px">2.0</text><text x="250.1" y="82.3" style="font-size:14.67px">12</text><text x="250.1" y="144.5" style="font-size:14.67px">9</text><text x="250.1" y="206.7" style="font-size:14.67px">6</text><text x="141.8" y="275.3" text-anchor="middle" style="font-size:14.67px">Pressure (GPa)</text><text transform="translate(10.3,139.6) rotate(-90)" text-anchor="middle" style="font-size:15.2px">T (K)</text><text transform="translate(280.6,137.6) rotate(-90)" text-anchor="middle" style="font-size:14.67px">&#955;<tspan dy="-5" style="font-size:10.3px">-2</tspan><tspan dy="5"> (&#956;m</tspan><tspan dy="-5" style="font-size:10.3px">-2</tspan><tspan dy="5">)</tspan></text><text x="1.5" y="45" style="font-weight:bold;font-size:14.67px">a</text><defs><linearGradient id="cbg" x1="0" y1="0" x2="0" y2="1"><stop offset="0.0000" stop-color="#97013a"/><stop offset="0.0208" stop-color="#97013a"/><stop offset="0.0208" stop-color="#9e063b"/><stop offset="0.0417" stop-color="#9e063b"/><stop offset="0.0417" stop-color="#a60d3d"/><stop offset="0.0625" stop-color="#a60d3d"/><stop offset="0.0625" stop-color="#ae143f"/><stop offset="0.0833" stop-color="#ae143f"/><stop offset="0.0833" stop-color="#b61c40"/><stop offset="0.1042" stop-color="#b61c40"/><stop offset="0.1042" stop-color="#be2342"/><stop offset="0.1250" stop-color="#be2342"/><stop offset="0.1250" stop-color="#c62b44"/><stop offset="0.1458" stop-color="#c62b44"/><stop offset="0.1458" stop-color="#ce3346"/><stop offset="0.1667" stop-color="#ce3346"/><stop offset="0.1667" stop-color="#d43a45"/><stop offset="0.1875" stop-color="#d43a45"/><stop offset="0.1875" stop-color="#d94044"/><stop offset="0.2083" stop-color="#d94044"/><stop offset="0.2083" stop-color="#dd4642"/><stop offset="0.2292" stop-color="#dd4642"/><stop offset="0.2292" stop-color="#e24c40"/><stop offset="0.2500" stop-color="#e24c40"/><stop offset="0.2500" stop-color="#e8553e"/><stop offset="0.2708" stop-color="#e8553e"/><stop offset="0.2708" stop-color="#f2623b"/><stop offset="0.2917" stop-color="#f2623b"/><stop offset="0.2917" stop-color="#f67642"/><stop offset="0.3125" stop-color="#f67642"/><stop offset="0.3125" stop-color="#f8884a"/><stop offset="0.3333" stop-color="#f8884a"/><stop offset="0.3333" stop-color="#fb9952"/><stop offset="0.3542" stop-color="#fb9952"/><stop offset="0.3542" stop-color="#fdaa5a"/><stop offset="0.3750" stop-color="#fdaa5a"/><stop offset="0.3750" stop-color="#fdb764"/><stop offset="0.3958" stop-color="#fdb764"/><stop offset="0.3958" stop-color="#fdc570"/><stop offset="0.4167" stop-color="#fdc570"/><stop offset="0.4167" stop-color="#fed67d"/><stop offset="0.4375" stop-color="#fed67d"/><stop offset="0.4375" stop-color="#fee28b"/><stop offset="0.4583" stop-color="#fee28b"/><stop offset="0.4583" stop-color="#feed9c"/><stop offset="0.4792" stop-color="#feed9c"/><stop offset="0.4792" stop-color="#fff7ac"/><stop offset="0.5000" stop-color="#fff7ac"/><stop offset="0.5000" stop-color="#fcfeb8"/><stop offset="0.5208" stop-color="#fcfeb8"/><stop offset="0.5208" stop-color="#eff8b1"/><stop offset="0.5417" stop-color="#eff8b1"/><stop offset="0.5417" stop-color="#e0f1ab"/><stop offset="0.5625" stop-color="#e0f1ab"/><stop offset="0.5625" stop-color="#d0eaa8"/><stop offset="0.5833" stop-color="#d0eaa8"/><stop offset="0.5833" stop-color="#c1e5a5"/><stop offset="0.6042" stop-color="#c1e5a5"/><stop offset="0.6042" stop-color="#afdda3"/><stop offset="0.6250" stop-color="#afdda3"/><stop offset="0.6250" stop-color="#9cd6a1"/><stop offset="0.6458" stop-color="#9cd6a1"/><stop offset="0.6458" stop-color="#87cea0"/><stop offset="0.6667" stop-color="#87cea0"/><stop offset="0.6667" stop-color="#7ac89f"/><stop offset="0.6875" stop-color="#7ac89f"/><stop offset="0.6875" stop-color="#6cc39f"/><stop offset="0.7083" stop-color="#6cc39f"/><stop offset="0.7083" stop-color="#5fbe9e"/><stop offset="0.7292" stop-color="#5fbe9e"/><stop offset="0.7292" stop-color="#55b3a2"/><stop offset="0.7500" stop-color="#55b3a2"/><stop offset="0.7500" stop-color="#4da9a6"/><stop offset="0.7708" stop-color="#4da9a6"/><stop offset="0.7708" stop-color="#459faa"/><stop offset="0.7917" stop-color="#459faa"/><stop offset="0.7917" stop-color="#3d96ae"/><stop offset="0.8125" stop-color="#3d96ae"/><stop offset="0.8125" stop-color="#358cb2"/><stop offset="0.8333" stop-color="#358cb2"/><stop offset="0.8333" stop-color="#2e84b6"/><stop offset="0.8542" stop-color="#2e84b6"/><stop offset="0.8542" stop-color="#2e7ab5"/><stop offset="0.8750" stop-color="#2e7ab5"/><stop offset="0.8750" stop-color="#3571b0"/><stop offset="0.8958" stop-color="#3571b0"/><stop offset="0.8958" stop-color="#3b69ac"/><stop offset="0.9167" stop-color="#3b69ac"/><stop offset="0.9167" stop-color="#4260a8"/><stop offset="0.9375" stop-color="#4260a8"/><stop offset="0.9375" stop-color="#4857a3"/><stop offset="0.9583" stop-color="#4857a3"/><stop offset="0.9583" stop-color="#4f4e9f"/><stop offset="0.9792" stop-color="#4f4e9f"/><stop offset="0.9792" stop-color="#55469b"/><stop offset="1.0000" stop-color="#55469b"/></linearGradient></defs><rect x="308" y="44.60" width="14.2" height="198.00" fill="url(#cbg)"/><rect x="308" y="41" width="14.2" height="3.6" fill="#808080"/><rect x="308" y="242.6" width="14.2" height="4.6" fill="#000"/><rect x="307.3" y="40.4" width="15.6" height="207.2" fill="none" stroke="#000" stroke-width="1.5"/><text x="334.5" y="49.8" style="font-size:14.67px">0.0</text><text x="334.5" y="74.5" style="font-size:14.67px">&#8722;0.13</text><text x="334.5" y="99.2" style="font-size:14.67px">&#8722;0.25</text><text x="334.5" y="123.9" style="font-size:14.67px">&#8722;0.38</text><text x="334.5" y="148.7" style="font-size:14.67px">&#8722;0.50</text><text x="334.5" y="173.4" style="font-size:14.67px">&#8722;0.63</text><text x="334.5" y="198.1" style="font-size:14.67px">&#8722;0.75</text><text x="334.5" y="222.8" style="font-size:14.67px">&#8722;0.88</text><text x="334.5" y="247.5" style="font-size:14.67px">&#8722;1.0</text><text x="329.3" y="10.6" text-anchor="middle" style="font-size:14.67px">Normalised</text><text x="329.5" y="30.2" text-anchor="middle" style="font-size:14.67px">AC <tspan style="font-family:'Liberation Serif',serif">&#967;</tspan> (arb. units)</text><text x="427" y="49.9" style="font-weight:bold;font-size:14.67px">b</text><path d="M474.5,243.0v-8M474.5,35.9v8M509.0,243.0v-4M509.0,35.9v4M543.5,243.0v-8M543.5,35.9v8M578.0,243.0v-4M578.0,35.9v4M612.5,243.0v-8M612.5,35.9v8M647.0,243.0v-4M647.0,35.9v4M681.5,243.0v-8M681.5,35.9v8M474.5,243.1h4M681.5,243.1h-4M474.5,208.6h8M681.5,208.6h-8M474.5,174.1h4M681.5,174.1h-4M474.5,139.6h8M681.5,139.6h-8M474.5,105.1h4M681.5,105.1h-4M474.5,70.6h8M681.5,70.6h-8M474.5,36.1h4M681.5,36.1h-4" stroke="#000" stroke-width="1.3" fill="none"/><line x1="474.5" y1="208.6" x2="681.5" y2="208.6" stroke="#000" stroke-width="1.4"/><g clip-path="url(#cb)"><path d="M477.0,95.6V109.0M477.5,131.0V142.0M481.0,131.0V142.0M485.3,135.0V150.0M487.6,151.0V163.0M493.3,149.0V162.0M503.9,150.0V163.0M498.5,177.0V189.0M513.8,173.5V185.0M523.2,187.8V195.0M533.0,206.4V218.5M542.0,185.0V196.0M563.4,194.0V207.0M628.5,217.5V234.3" stroke="#cc2b52" stroke-width="1.5" fill="none"/><rect x="474.0" y="99.0" width="6" height="6" fill="#cc2b52"/><rect x="474.5" y="133.5" width="6" height="6" fill="#cc2b52"/><rect x="478.0" y="133.5" width="6" height="6" fill="#cc2b52"/><rect x="482.3" y="139.3" width="6" height="6" fill="#cc2b52"/><rect x="484.6" y="154.0" width="6" height="6" fill="#cc2b52"/><rect x="490.3" y="152.6" width="6" height="6" fill="#cc2b52"/><rect x="500.9" y="153.3" width="6" height="6" fill="#cc2b52"/><rect x="495.5" y="180.5" width="6" height="6" fill="#cc2b52"/><rect x="510.8" y="176.0" width="6" height="6" fill="#cc2b52"/><rect x="520.2" y="189.0" width="6" height="6" fill="#cc2b52"/><rect x="530.0" y="209.3" width="6" height="6" fill="#cc2b52"/><rect x="539.0" y="187.5" width="6" height="6" fill="#cc2b52"/><rect x="560.4" y="197.5" width="6" height="6" fill="#cc2b52"/><rect x="625.5" y="222.5" width="6" height="6" fill="#cc2b52"/><path d="M478.5,53.2V98.0M489.7,87.8V124.5M505.0,84.0V114.0M512.4,112.8V154.0M520.3,148.5V177.6M536.0,173.0V212.0M550.6,184.2V220.6M573.8,195.0V231.2M581.6,177.7V220.5" stroke="#f5a623" stroke-width="1.5" fill="none"/><circle cx="478.5" cy="74.8" r="2.9" fill="#fff" stroke="#f5a623" stroke-width="1.5"/><circle cx="489.7" cy="106.0" r="2.9" fill="#fff" stroke="#f5a623" stroke-width="1.5"/><circle cx="505.0" cy="98.7" r="2.9" fill="#fff" stroke="#f5a623" stroke-width="1.5"/><circle cx="512.4" cy="133.4" r="2.9" fill="#fff" stroke="#f5a623" stroke-width="1.5"/><circle cx="520.3" cy="164.1" r="2.9" fill="#fff" stroke="#f5a623" stroke-width="1.5"/><circle cx="536.0" cy="192.0" r="2.9" fill="#fff" stroke="#f5a623" stroke-width="1.5"/><circle cx="550.6" cy="202.0" r="2.9" fill="#fff" stroke="#f5a623" stroke-width="1.5"/><circle cx="573.8" cy="213.0" r="2.9" fill="#fff" stroke="#f5a623" stroke-width="1.5"/><circle cx="581.6" cy="199.0" r="2.9" fill="#fff" stroke="#f5a623" stroke-width="1.5"/><path d="M495.4,166.0V181.0M501.8,162.0V178.0M508.3,176.0V189.0M514.9,180.0V195.0M523.3,170.5V186.0M529.0,175.0V190.0M535.5,186.0V200.0M556.7,189.2V202.0M571.5,199.0V211.0M585.6,195.0V212.7M620.3,204.2V219.3M642.8,198.9V221.0" stroke="#5ab4a5" stroke-width="1.5" fill="none"/><path d="M495.4,169.2l4,7h-8z" fill="#5ab4a5"/><path d="M501.8,165.6l4,7h-8z" fill="#5ab4a5"/><path d="M508.3,177.8l4,7h-8z" fill="#5ab4a5"/><path d="M514.9,182.8l4,7h-8z" fill="#5ab4a5"/><path d="M523.3,173.3l4,7h-8z" fill="#5ab4a5"/><path d="M529.0,177.8l4,7h-8z" fill="#5ab4a5"/><path d="M535.5,189.2l4,7h-8z" fill="#5ab4a5"/><path d="M556.7,191.4l4,7h-8z" fill="#5ab4a5"/><path d="M571.5,200.8l4,7h-8z" fill="#5ab4a5"/><path d="M585.6,198.6l4,7h-8z" fill="#5ab4a5"/><path d="M620.3,207.1l4,7h-8z" fill="#5ab4a5"/><path d="M642.8,206.2l4,7h-8z" fill="#5ab4a5"/><path d="M483.3,91.4V143.6M491.5,92.8V145.5M478.6,106.3V156.3M500.3,129.9V183.0M509.0,140.5V193.5M518.0,155.5V207.0M526.3,172.0V224.0M535.3,154.6V205.0M543.3,174.8V227.0M552.0,174.0V226.2M561.0,189.9V242.0M570.5,171.2V223.4M604.8,199.2V242.0" stroke="#3a7dc0" stroke-width="1.5" fill="none"/><path d="M483.3,113.7l4,4.2l-4,4.2l-4,-4.2z" fill="#3a7dc0"/><path d="M491.5,114.8l4,4.2l-4,4.2l-4,-4.2z" fill="#3a7dc0"/><path d="M478.6,126.6l4,4.2l-4,4.2l-4,-4.2z" fill="#3a7dc0"/><path d="M500.3,152.1l4,4.2l-4,4.2l-4,-4.2z" fill="#3a7dc0"/><path d="M509.0,162.8l4,4.2l-4,4.2l-4,-4.2z" fill="#3a7dc0"/><path d="M518.0,177.3l4,4.2l-4,4.2l-4,-4.2z" fill="#3a7dc0"/><path d="M526.3,193.5l4,4.2l-4,4.2l-4,-4.2z" fill="#3a7dc0"/><path d="M535.3,176.8l4,4.2l-4,4.2l-4,-4.2z" fill="#3a7dc0"/><path d="M543.3,196.3l4,4.2l-4,4.2l-4,-4.2z" fill="#3a7dc0"/><path d="M552.0,195.6l4,4.2l-4,4.2l-4,-4.2z" fill="#3a7dc0"/><path d="M561.0,212.5l4,4.2l-4,4.2l-4,-4.2z" fill="#3a7dc0"/><path d="M570.5,193.5l4,4.2l-4,4.2l-4,-4.2z" fill="#3a7dc0"/><path d="M604.8,221.0l4,4.2l-4,4.2l-4,-4.2z" fill="#3a7dc0"/></g><rect x="474.5" y="35.9" width="207.0" height="207.1" fill="none" stroke="#000" stroke-width="1.4"/><text x="468.3" y="212.9" text-anchor="end" style="font-size:14.67px">0.00</text><text x="468.3" y="143.9" text-anchor="end" style="font-size:14.67px">0.02</text><text x="468.3" y="74.9" text-anchor="end" style="font-size:14.67px">0.04</text><text x="474.5" y="259.9" text-anchor="middle" style="font-size:14.67px">0</text><text x="543.5" y="259.9" text-anchor="middle" style="font-size:14.67px">1</text><text x="612.5" y="259.9" text-anchor="middle" style="font-size:14.67px">2</text><text x="681.5" y="259.9" text-anchor="middle" style="font-size:14.67px">3</text><text x="563.5" y="277.8" style="font-size:14.5px"><tspan style="font-style:italic">T</tspan>/<tspan style="font-style:italic">T</tspan><tspan dy="3.3" style="font-size:9.6px">C</tspan></text><text transform="translate(435.1,136.6) rotate(-90)" text-anchor="middle" style="font-size:14.0px"><tspan style="font-family:'Liberation Serif',serif">&#916;&#915;</tspan> (&#956;s<tspan dy="-5" style="font-size:10.3px">-1</tspan><tspan dy="5">)</tspan></text><text x="576.5" y="59.2" style="font-weight:bold;font-size:11.9px">Zero-field</text><text x="563.1" y="74.5" style="font-size:11.6px">Nb<tspan dy="2.5" style="font-size:8px">0.07</tspan><tspan dy="-2.5">-CVS, 1.2 GPa</tspan></text><text x="563.1" y="91.2" style="font-size:11.6px">Nb<tspan dy="2.5" style="font-size:8px">0.07</tspan><tspan dy="-2.5">-CVS, 1.5 GPa</tspan></text><text x="563.1" y="107.9" style="font-size:11.6px">Ta<tspan dy="2.5" style="font-size:8px">0.14</tspan><tspan dy="-2.5">-CVS, 0 GPa</tspan></text><text x="563.1" y="124.6" style="font-size:11.6px">CVS, 1.78 GPa</text><rect x="543" y="67" width="6.2" height="6.2" fill="#cc2b52"/><circle cx="546" cy="87" r="2.9" fill="#fff" stroke="#f5a623" stroke-width="1.5"/><path d="M546,99.4l4.1,7.4h-8.2z" fill="#5ab4a5"/><path d="M546,116.2l4,4.2l-4,4.2l-4,-4.2z" fill="#3a7dc0"/></svg></body></html>
